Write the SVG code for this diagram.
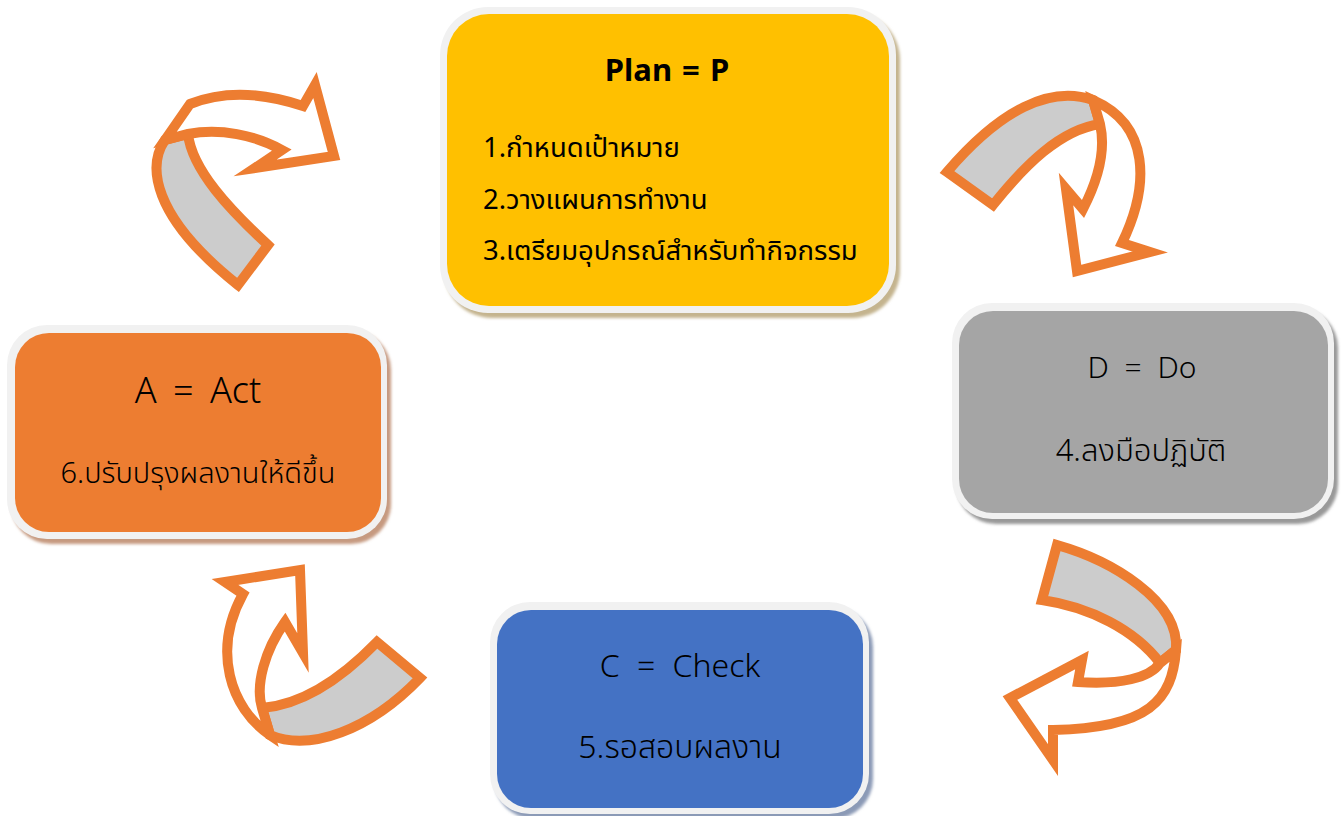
<svg xmlns="http://www.w3.org/2000/svg" width="1344" height="816" viewBox="0 0 1344 816">
<defs>
<filter id="blur" x="-5%" y="-5%" width="110%" height="115%"><feGaussianBlur stdDeviation="1.5"/></filter>
</defs>
<style>
.frame{fill:#f1f1f1}
.arrow{stroke:#ed7d31;stroke-width:10;stroke-linejoin:miter;stroke-miterlimit:10}
.band{fill:#cccccc}
.head{fill:#ffffff}
.t{font-family:"Noto Sans","Noto Sans Thai","Liberation Sans",sans-serif;fill:#000000;text-anchor:middle}
.th{font-family:"Noto Sans Thai","Noto Sans","Liberation Sans",sans-serif;fill:#000000}
</style>
<rect width="1344" height="816" fill="#ffffff"/>

<g id="node-plan">
<rect x="444" y="12" width="456" height="306" rx="48" fill="#c4b48e" filter="url(#blur)"/>
<rect class="frame" x="440" y="7" width="456" height="306" rx="48"/>
<rect x="447" y="14" width="442" height="292" rx="42" fill="#ffc000"/>
<text class="t" x="667" y="81" font-size="31" font-weight="bold" word-spacing="2">Plan = P</text>
<text class="th" x="483" y="157" font-size="27.5">1.กำหนดเป้าหมาย</text>
<text class="th" x="483" y="209" font-size="27.5">2.วางแผนการทำงาน</text>
<text class="th" x="483" y="260" font-size="27.5">3.เตรียมอุปกรณ์สำหรับทำกิจกรรม</text>
</g>

<g id="node-do">
<rect x="956" y="308" width="382" height="216" rx="40" fill="#999999" filter="url(#blur)"/>
<rect class="frame" x="952" y="303" width="382" height="216" rx="40"/>
<rect x="959" y="311" width="369" height="202" rx="34" fill="#a5a5a5"/>
<text class="t" x="1142" y="378" font-size="30" font-weight="300" word-spacing="8">D = Do</text>
<text class="t" x="1141" y="461" font-size="31" font-weight="300">4.ลงมือปฏิบัติ</text>
</g>

<g id="node-check">
<rect x="494" y="607" width="379" height="212" rx="40" fill="#8b9ab6" filter="url(#blur)"/>
<rect class="frame" x="490" y="602" width="379" height="212" rx="40"/>
<rect x="497" y="610" width="366" height="198" rx="34" fill="#4472c4"/>
<text class="t" x="680" y="677" font-size="32" font-weight="300" word-spacing="9">C = Check</text>
<text class="t" x="680" y="758" font-size="32" font-weight="300">5.รอสอบผลงาน</text>
</g>

<g id="node-act">
<rect x="11" y="330" width="380" height="214" rx="40" fill="#c69a80" filter="url(#blur)"/>
<rect class="frame" x="7" y="325" width="380" height="214" rx="40"/>
<rect x="15" y="333" width="366" height="199" rx="34" fill="#ed7d31"/>
<text class="t" x="198" y="403" font-size="36" font-weight="300" word-spacing="7">A = Act</text>
<text class="t" x="198" y="483" font-size="29" font-weight="300">6.ปรับปรุงผลงานให้ดีขึ้น</text>
</g>

<g id="connectors">
<g id="arrow-act-plan">
<path class="arrow band" d="M165,140 C148,165 150,215 238,285 L268,245 C230,210 192,170 188,134 Z"/>
<path class="arrow head" d="M165,140 L190,104 C230,88 270,95 303,106 L315,85 L334,156 L255,168 L282,150 C255,135 220,128 188,134 Z"/>
</g>
<g id="arrow-plan-do">
<path class="arrow band" d="M947,172 L993,205 C1025,165 1060,130 1100,124 L1093,100 C1050,85 1000,110 947,172 Z"/>
<path class="arrow head" d="M1093,100 C1150,125 1150,185 1122,243 L1150,252 L1077,271 L1066,189 L1083,209 C1098,180 1106,150 1100,124 Z"/>
</g>
<g id="arrow-do-check">
<path class="arrow band" d="M1057,545 C1110,560 1180,600 1176,650 L1160,663 C1135,630 1090,607 1042,600 Z"/>
<path class="arrow head" d="M1176,650 C1172,700 1150,728 1053,730 L1053,760 L1010,698 L1082,660 L1078,682 C1120,685 1150,678 1160,663 Z"/>
</g>
<g id="arrow-check-act">
<path class="arrow band" d="M262,708 C300,705 340,680 377,642 L420,678 C370,730 310,752 270,735 Z"/>
<path class="arrow head" d="M270,735 C230,708 212,650 243,594 L225,582 L300,570 L303,653 L285,622 C265,650 255,685 262,708 Z"/>
</g>
</g>
</svg>
